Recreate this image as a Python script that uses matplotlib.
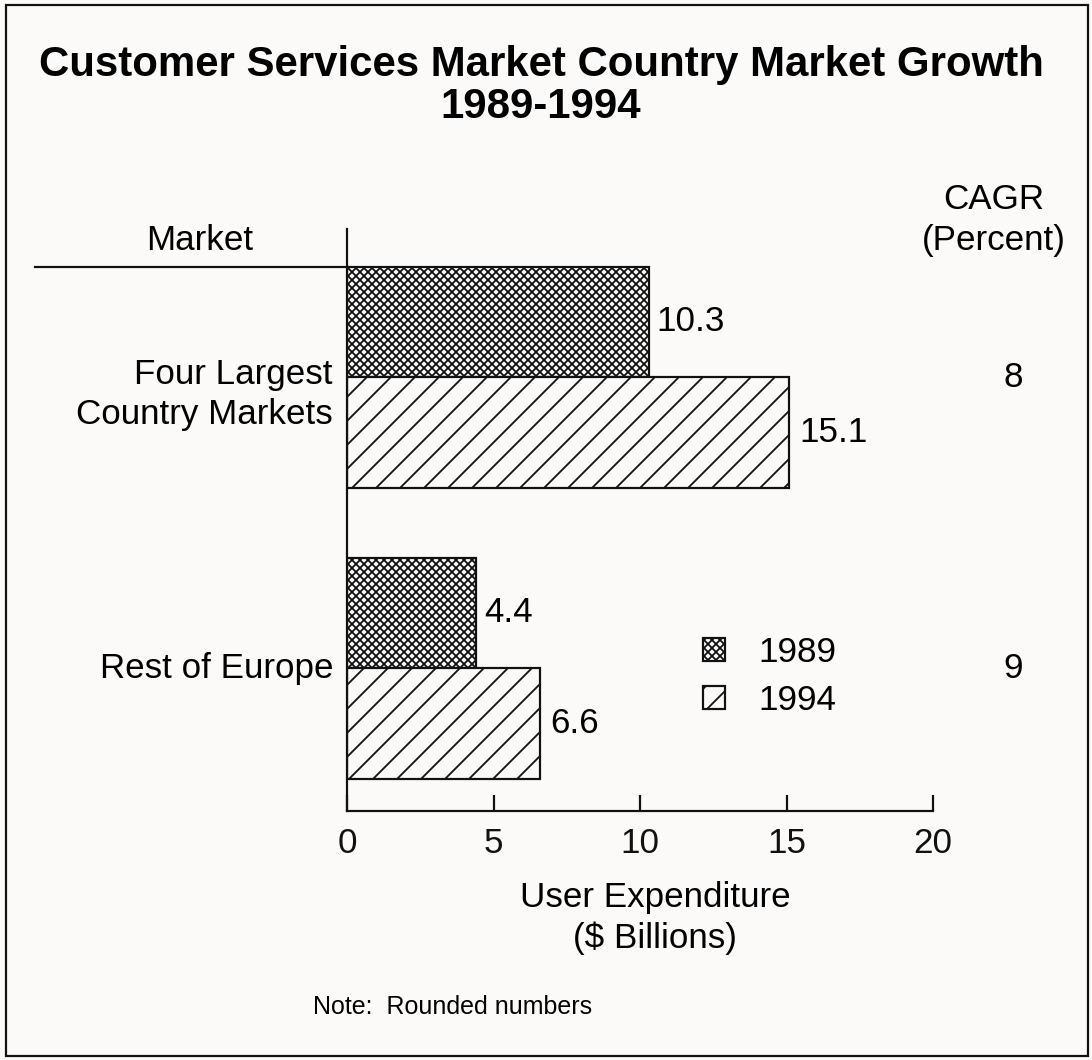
import matplotlib.pyplot as plt
import matplotlib.patches as mpatches
from matplotlib.transforms import blended_transform_factory

markets = ['Four Largest\nCountry Markets', 'Rest of Europe']
spend_1989 = [10.3, 4.4]
spend_1994 = [15.1, 6.6]
cagr = [8, 9]
years = ['1989', '1994']
xticks = [0, 5, 10, 15, 20]

plt.rcParams['font.family'] = ['Liberation Sans', 'DejaVu Sans']
plt.rcParams['hatch.linewidth'] = 0.9

W, H, DPI = 1092, 1060, 144
bg = '#fcfaf8'
ink = '#111111'
fs = 17.5


def fx(px):
    return px / W


def fy(py):
    return 1 - py / H


fig = plt.figure(figsize=(W / DPI, H / DPI), dpi=DPI, facecolor=bg)
ax = fig.add_axes([fx(347), fy(811), fx(933) - fx(347), fy(229) - fy(811)])
ax.set_facecolor('none')

pos = [1.49, 0.49]
bar_h = 0.381
hatch_89, hatch_94 = 'xxxxxx', '//'
ax.barh([p + bar_h / 2 for p in pos], spend_1989, height=bar_h, color=bg,
        edgecolor=ink, hatch=hatch_89, linewidth=1.1)
ax.barh([p - bar_h / 2 for p in pos], spend_1994, height=bar_h, color=bg,
        edgecolor=ink, hatch=hatch_94, linewidth=1.1)

for p, a, b in zip(pos, spend_1989, spend_1994):
    ax.annotate(f'{a}', (a, p + bar_h / 2), xytext=(4, 0), textcoords='offset points',
                ha='left', va='center', fontsize=fs)
    ax.annotate(f'{b}', (b, p - bar_h / 2), xytext=(5, 0), textcoords='offset points',
                ha='left', va='center', fontsize=fs)

# category labels left of the axis
for p, m in zip(pos, markets):
    off = -8.5 if '\n' in m else 0
    ax.annotate(m, (0, p), xytext=(-7, off), textcoords='offset points',
                ha='right', va='center', fontsize=fs, linespacing=1.3,
                annotation_clip=False)

# CAGR column
trans = blended_transform_factory(fig.transFigure, ax.transData)
for p, c in zip(pos, cagr):
    ax.text(fx(1013), p, str(c), transform=trans, ha='center', va='center', fontsize=fs)
fig.text(fx(994), fy(220), 'CAGR\n(Percent)', ha='center', va='center', fontsize=fs,
         linespacing=1.3)
fig.text(fx(200), fy(240), 'Market', ha='center', va='center', fontsize=fs)
ax.plot([fx(35), fx(348)], [pos[0] + bar_h] * 2, transform=trans, color=ink,
        lw=1.1, clip_on=False)

ax.set_xlim(0, 20)
ax.set_ylim(0, 2)
ax.set_xticks(xticks)
ax.set_xticklabels([str(t) for t in xticks], fontsize=fs)
ax.set_yticks([])
ax.tick_params(axis='x', direction='in', length=8, width=1.1, pad=8, colors=ink)
for s in ['top', 'right']:
    ax.spines[s].set_visible(False)
for s in ['left', 'bottom']:
    ax.spines[s].set_linewidth(1.1)
    ax.spines[s].set_color(ink)

handles = [mpatches.Patch(facecolor=bg, edgecolor=ink, hatch=hatch_89, lw=1.1),
           mpatches.Patch(facecolor=bg, edgecolor=ink, hatch=hatch_94, lw=1.1)]
fig.legend(handles, years, loc='upper left', bbox_to_anchor=(fx(703), fy(636)),
           frameon=False, fontsize=fs, handlelength=0.63, handleheight=0.63,
           handletextpad=0.95, labelspacing=0.42, borderpad=0, borderaxespad=0)

fig.text(fx(655), fy(918), 'User Expenditure\n($ Billions)', ha='center', va='center',
         fontsize=fs, linespacing=1.3)
fig.text(fx(313), fy(1007), 'Note:  Rounded numbers', ha='left', va='center', fontsize=12.5)

fig.text(fx(541), fy(65), 'Customer Services Market Country Market Growth',
         ha='center', va='center', fontsize=21, fontweight='bold')
fig.text(fx(541), fy(107), '1989-1994', ha='center', va='center', fontsize=21,
         fontweight='bold')

fig.add_artist(mpatches.Rectangle((fx(6), fy(1056)), fx(1088) - fx(6), fy(5) - fy(1056),
                                  transform=fig.transFigure, fill=False,
                                  edgecolor=ink, lw=1.1))

fig.savefig('out.png', dpi=DPI, facecolor=bg)
